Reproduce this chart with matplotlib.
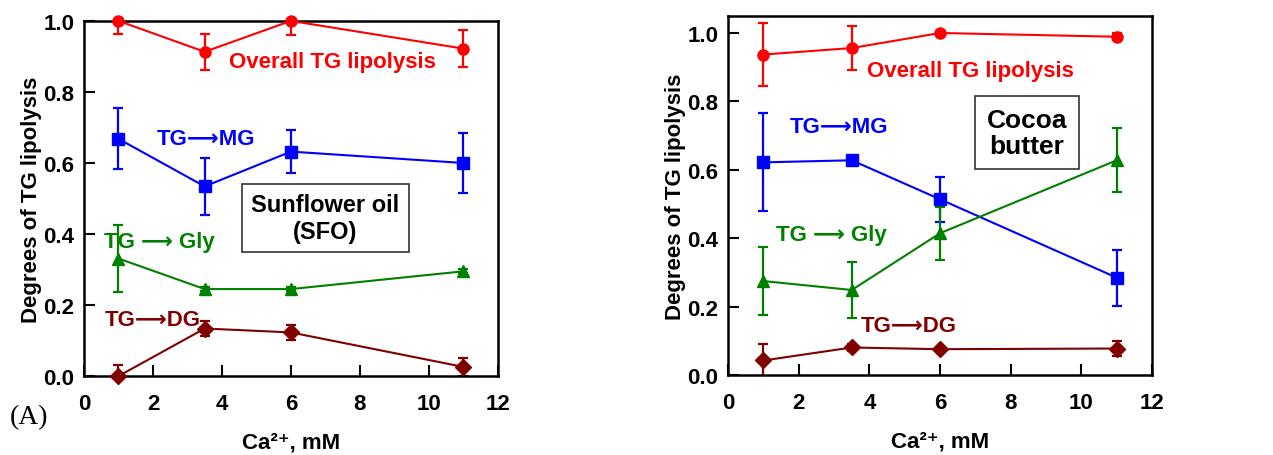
import matplotlib.pyplot as plt

# ---- data ----
ca = [1, 3.5, 6, 11]

# (A) sunflower oil
sfo_overall = [1.0, 0.913, 1.0, 0.922]
sfo_overall_err = [0.036, 0.05, 0.04, 0.052]
sfo_mg = [0.668, 0.534, 0.632, 0.600]
sfo_mg_err = [0.086, 0.08, 0.06, 0.085]
sfo_gly = [0.331, 0.245, 0.245, 0.295]
sfo_gly_err = [0.095, 0.006, 0.006, 0.006]
sfo_dg = [0.0, 0.134, 0.123, 0.026]
sfo_dg_err = [0.03, 0.022, 0.02, 0.025]

# (B) cocoa butter
cb_overall = [0.937, 0.956, 1.0, 0.989]
cb_overall_err = [0.092, 0.065, 0.004, 0.01]
cb_mg = [0.622, 0.628, 0.514, 0.285]
cb_mg_err = [0.143, 0.005, 0.065, 0.082]
cb_gly = [0.275, 0.249, 0.415, 0.628]
cb_gly_err = [0.10, 0.083, 0.077, 0.093]
cb_dg = [0.043, 0.081, 0.076, 0.078]
cb_dg_err = [0.048, 0.01, 0.005, 0.022]

yticks = [0, 0.2, 0.4, 0.6, 0.8, 1.0]
ytick_labels = ['0.0', '0.2', '0.4', '0.6', '0.8', '1.0']
xticks = [0, 2, 4, 6, 8, 10, 12]

RED = '#ff0000'
BLUE = '#0000ff'
GREEN = '#008000'
DRED = '#800000'

FAM = ['Liberation Sans', 'DejaVu Sans']
plt.rcParams['font.family'] = FAM
plt.rcParams['font.weight'] = 'bold'
ARW = '\u27f6'

fig = plt.figure(figsize=(12.73, 4.56), dpi=100)
ax1 = fig.add_axes([0.066, 0.173, 0.325, 0.779])
ax2 = fig.add_axes([0.572, 0.175, 0.333, 0.788])


def series(ax, y, err, color, marker, ms):
    ax.errorbar(ca, y, yerr=err, fmt='none', ecolor=color, elinewidth=1.6,
                capsize=3.5, capthick=1.6, clip_on=True, zorder=2)
    ax.plot(ca, y, color=color, marker=marker, ms=ms, lw=1.5, clip_on=False, zorder=3)


def style(ax, ymax):
    ax.set_xlim(0, 12)
    ax.set_ylim(0, ymax)
    ax.set_xticks(xticks)
    ax.set_yticks(yticks)
    ax.set_yticklabels(ytick_labels)
    ax.tick_params(direction='in', length=8, width=1.5, labelsize=16)
    ax.tick_params(axis='x', pad=12)
    ax.tick_params(axis='y', pad=7)
    for s in ax.spines.values():
        s.set_linewidth(1.8)
    for lab in ax.get_xticklabels() + ax.get_yticklabels():
        lab.set_fontweight('bold')
    ax.set_xlabel('Ca\u00b2\u207a, mM', fontsize=16, fontweight='bold', labelpad=13)
    ax.set_ylabel('Degrees of TG lipolysis', fontsize=16, fontweight='bold', labelpad=1)


kw = dict(fontsize=16, fontweight='bold', ha='center', va='center')

# left panel
series(ax1, sfo_overall, sfo_overall_err, RED, 'o', 8)
series(ax1, sfo_mg, sfo_mg_err, BLUE, 's', 8)
series(ax1, sfo_gly, sfo_gly_err, GREEN, '^', 9)
series(ax1, sfo_dg, sfo_dg_err, DRED, 'D', 8)
style(ax1, 1.0)
ax1.text(7.2, 0.885, 'Overall TG lipolysis', color=RED, **kw)
ax1.text(3.55, 0.668, 'TG' + ARW + 'MG', color=BLUE, **kw)
ax1.text(2.2, 0.38, 'TG ' + ARW + ' Gly', color=GREEN, **kw)
ax1.text(2.0, 0.158, 'TG' + ARW + 'DG', color=DRED, **kw)
ax1.text(7.0, 0.445, 'Sunflower oil\n(SFO)', fontsize=17, fontweight='bold',
         ha='center', va='center', color='black', linespacing=1.2,
         bbox=dict(boxstyle='square,pad=0.4', fc='white', ec='#333333', lw=1.2))
fig.text(0.008, 0.07, '(A)', fontsize=20, family='Liberation Serif', fontweight='normal')

# right panel
series(ax2, cb_overall, cb_overall_err, RED, 'o', 8)
series(ax2, cb_mg, cb_mg_err, BLUE, 's', 8)
series(ax2, cb_gly, cb_gly_err, GREEN, '^', 9)
series(ax2, cb_dg, cb_dg_err, DRED, 'D', 8)
style(ax2, 1.05)
ax2.text(6.85, 0.89, 'Overall TG lipolysis', color=RED, **kw)
ax2.text(3.15, 0.726, 'TG' + ARW + 'MG', color=BLUE, **kw)
ax2.text(2.92, 0.41, 'TG ' + ARW + ' Gly', color=GREEN, **kw)
ax2.text(5.1, 0.146, 'TG' + ARW + 'DG', color=DRED, **kw)
ax2.text(8.45, 0.709, 'Cocoa\nbutter', fontsize=19, fontweight='bold',
         ha='center', va='center', color='black', linespacing=1.1,
         bbox=dict(boxstyle='square,pad=0.45', fc='white', ec='#333333', lw=1.2))

fig.savefig('out.png', dpi=100)
